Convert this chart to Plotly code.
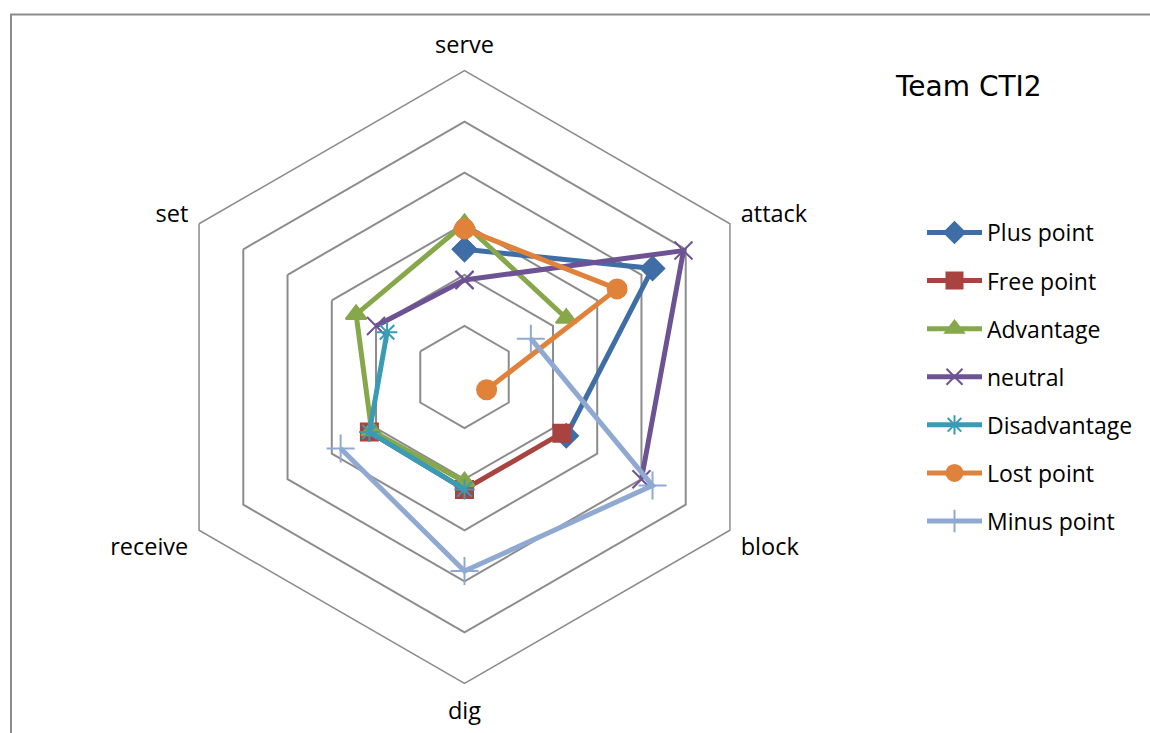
import plotly.graph_objects as go

categories = ["serve", "attack", "block", "dig", "receive", "set"]

plus_point = [2.5, 4.25, 2.3, None, None, None]
free_point = [None, None, 2.2, 2.2, 2.15, None]
advantage = [3.0, 2.3, None, 2.05, 2.1, 2.45]
neutral = [1.9, 4.95, 4.0, None, None, 2.0]
disadvantage = [None, None, None, 2.2, 2.15, 1.75]
lost_point = [2.9, 3.45, 0.5, None, None, None]
minus_point = [None, 1.5, 4.25, 3.8, 2.8, None]

series_names = ["Plus point", "Free point", "Advantage", "neutral",
                "Disadvantage", "Lost point", "Minus point"]
series_values = [plus_point, free_point, advantage, neutral,
                 disadvantage, lost_point, minus_point]
colors = ["#3F6EA7", "#A8433F", "#87A74B", "#6D5393", "#3A9BB5", "#E0823A", "#90A9D3"]
symbols = ["diamond", "square", "triangle-up", "x-thin-open", "asterisk-open",
           "circle", "cross-thin-open"]
sizes = [18, 17, 18, 18, 17, 19, 20]

fig = go.Figure()
for i, (name, vals) in enumerate(zip(series_names, series_values)):
    r = list(vals) + [vals[0]]
    theta = categories + [categories[0]]
    fig.add_trace(go.Scatterpolar(
        r=r, theta=theta, name=name, mode="lines+markers",
        connectgaps=False, legendgroup=name,
        line=dict(color=colors[i], width=5),
        marker=dict(symbol=symbols[i], size=sizes[i], color=colors[i],
                    line=dict(color=colors[i], width=2)),
    ))

W, H = 1150, 733
cx, cy, R = 464.5, 377.0, 306.5
fig.update_layout(
    width=W, height=H,
    margin=dict(l=0, r=0, t=0, b=0),
    paper_bgcolor="white",
    font=dict(family="Open Sans", size=23, color="black"),
    polar=dict(
        domain=dict(x=[(cx - R) / W, (cx + R) / W],
                    y=[(H - cy - R) / H, (H - cy + R) / H]),
        bgcolor="white",
        gridshape="linear",
        radialaxis=dict(range=[0, 6], dtick=1, showticklabels=False, ticks="",
                        showline=False, showgrid=True,
                        gridcolor="#8C8C8C", gridwidth=1.5),
        angularaxis=dict(rotation=90, direction="clockwise", showgrid=False,
                         showline=True, linecolor="#8C8C8C", linewidth=1.5,
                         ticks="outside", ticklen=7, tickcolor="rgba(0,0,0,0)",
                         tickfont=dict(family="Open Sans", size=23.5,
                                       color="black")),
    ),
    showlegend=True,
    legend=dict(x=922 / W, y=(H - 211) / H, xanchor="left", yanchor="top",
                font=dict(family="Open Sans", size=23, color="black"),
                traceorder="grouped", tracegroupgap=15.2, itemwidth=55,
                bgcolor="rgba(0,0,0,0)"),
    annotations=[dict(text="Team CTI2", x=968 / W, y=(H - 86) / H,
                      xref="paper", yref="paper", showarrow=False,
                      xanchor="center", yanchor="middle",
                      font=dict(family="DejaVu Sans", size=28, color="black"))],
    shapes=[dict(type="path", xref="paper", yref="paper",
                 path=f"M {11 / W} 0 L {11 / W} {(H - 14.5) / H} L 1 {(H - 14.5) / H}",
                 line=dict(color="#8C8C8C", width=2))],
)

fig.write_html("out.html")
